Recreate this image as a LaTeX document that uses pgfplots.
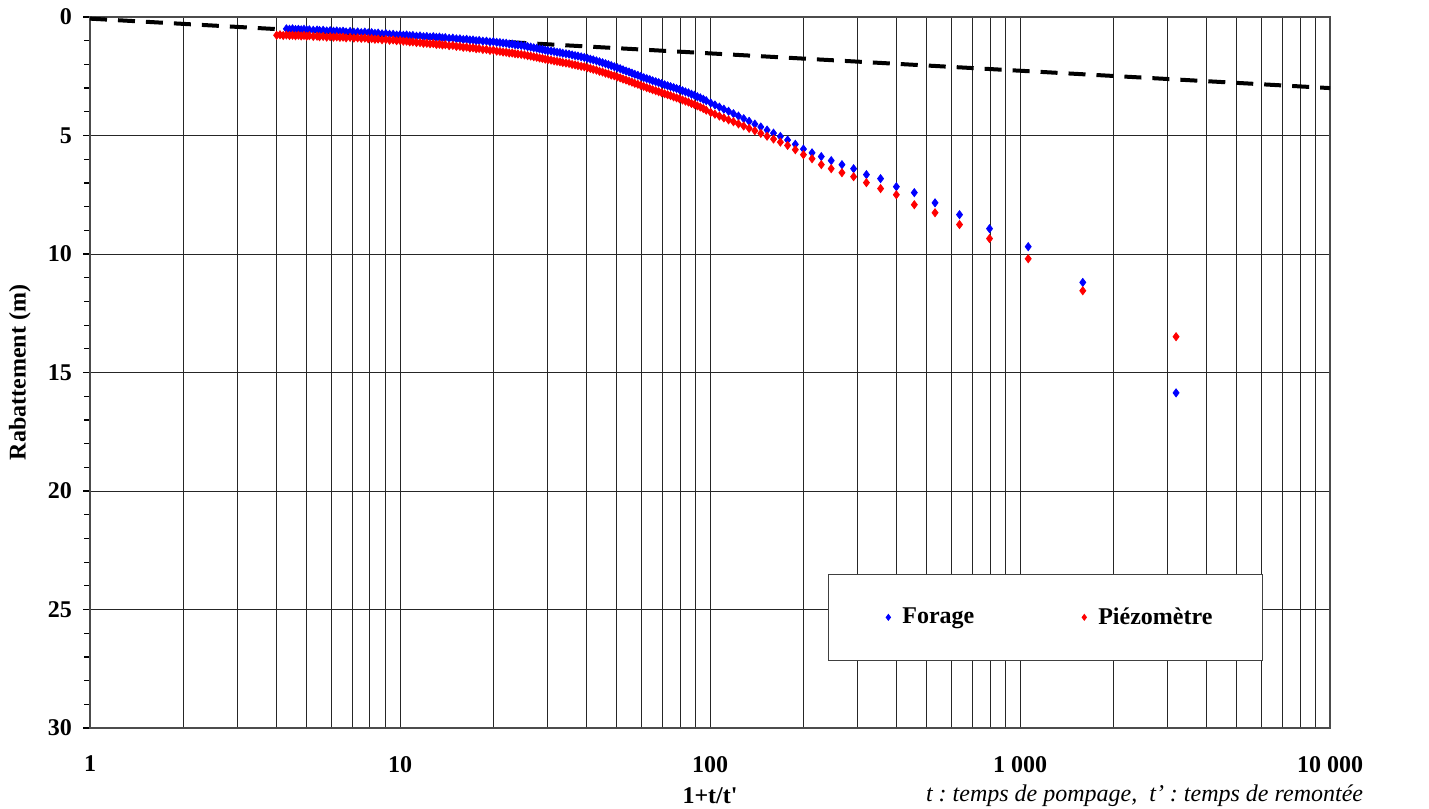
\documentclass[border=0pt]{standalone}
\usepackage{fontspec}
\setmainfont{Liberation Serif}
\usepackage{pgfplots}
\pgfplotsset{compat=1.18}
\newcommand{\chartfont}{\fontsize{12}{14}\selectfont}
\frenchspacing
\begin{document}
\begin{tikzpicture}
\begin{axis}[
  scale only axis,
  width=620pt, height=355.5pt,
  clip=false,
  xmode=log,
  xmin=1, xmax=10000,
  ymin=0, ymax=30,
  y dir=reverse,
  xtick={1,10,100,1000,10000},
  xticklabels={1,10,100,1 000,10 000},
  minor xtick={2,3,4,5,6,7,8,9,20,30,40,50,60,70,80,90,200,300,400,500,600,700,800,900,2000,3000,4000,5000,6000,7000,8000,9000},
  ytick={0,5,10,15,20,25,30},
  yticklabels={0,5,10,15,20,25,30},
  minor ytick={1,2,3,4,6,7,8,9,11,12,13,14,16,17,18,19,21,22,23,24,26,27,28,29},
  ytick pos=left,
  tick align=outside,
  xtick style={draw=none},
  ytick style={black, line width=0.6pt},
  major tick length=3.5pt,
  minor tick length=3pt,
  xmajorgrids, xminorgrids, ymajorgrids,
  major grid style={black!85, line width=0.5pt},
  minor grid style={black!85, line width=0.5pt},
  axis line style={black!70, line width=0.8pt},
  ticklabel style={font=\chartfont\bfseries},
  x tick label style={yshift=-7pt},
  y tick label style={xshift=-2pt},
  xlabel={1+t/t\textquotesingle},
  xlabel style={at={(axis description cs:0.5,-0.0956)}, anchor=center, font=\chartfont\bfseries},
  ylabel={Rabattement (m)},
  ylabel style={at={(axis description cs:-0.0565,0.5)}, anchor=center, font=\chartfont\bfseries},
  legend columns=2,
  legend image code/.code={\path[draw=none, fill=none] (0pt,-2pt) rectangle (12pt,2pt); \draw[#1, mark size=1.4pt] plot coordinates {(7pt,0pt)};},
  legend style={
    at={(axis description cs:0.595,0.2166)}, anchor=north west,
    draw=black!75, line width=0.5pt,
    font=\chartfont\bfseries,
    inner xsep=23pt, inner ysep=14.5pt,
    /tikz/every even column/.append style={column sep=46pt},
  },
]
\addplot[only marks, mark=diamond*, mark size=2pt, color=blue] table {
x y
4.3 0.50
4.4 0.52
4.5 0.50
4.6 0.53
4.7 0.52
4.8 0.54
4.9 0.52
5.0 0.55
5.1 0.54
5.25 0.56
5.4 0.55
5.5 0.57
5.65 0.56
5.8 0.59
5.95 0.58
6.1 0.60
6.25 0.59
6.4 0.61
6.55 0.60
6.7 0.63
6.9 0.61
7.1 0.64
7.3 0.63
7.5 0.66
7.7 0.64
7.9 0.67
8.1 0.66
8.3 0.69
8.5 0.68
8.75 0.71
9.0 0.70
9.25 0.73
9.5 0.73
9.75 0.76
10 0.75
10.25 0.77
10.5 0.76
10.75 0.79
11 0.78
11.3 0.81
11.6 0.80
11.9 0.83
12.2 0.82
12.5 0.85
12.8 0.83
13.1 0.86
13.4 0.85
13.7 0.88
14 0.87
14.4 0.90
14.8 0.89
15.2 0.92
15.6 0.92
16 0.95
16.4 0.94
16.8 0.97
17.2 0.97
17.6 1.00
18 0.99
18.5 1.02
19 1.02
19.5 1.05
20 1.04
20.5 1.07
21 1.08
21.5 1.10
22 1.11
22.5 1.14
23 1.14
23.5 1.17
24 1.18
24.6 1.20
25.2 1.22
25.8 1.25
26.4 1.27
27 1.30
27.6 1.32
28.2 1.35
28.8 1.37
29.4 1.40
30 1.42
30.7 1.44
31.4 1.46
32.1 1.49
32.8 1.50
33.5 1.53
34.3 1.55
35.1 1.57
35.9 1.60
36.7 1.63
37.5 1.65
38.4 1.68
39.3 1.71
40.2 1.74
41.1 1.78
42 1.81
43 1.85
44 1.89
45 1.93
46 1.97
47 2.01
48 2.05
49.1 2.10
50.2 2.14
51.3 2.18
52.4 2.23
53.6 2.28
54.8 2.32
56 2.37
57.2 2.42
58.5 2.46
59.8 2.51
61.1 2.56
62.5 2.60
63.9 2.64
65.3 2.69
66.8 2.73
68.3 2.77
69.8 2.81
71.4 2.86
73 2.90
74.6 2.94
76.3 2.98
78 3.02
79.7 3.06
81.5 3.11
83.3 3.16
85.2 3.20
87.1 3.26
89 3.30
91 3.36
93 3.41
95.1 3.47
97.2 3.53
100.5 3.63
103.7 3.71
107.2 3.80
110.8 3.89
114.75 3.98
119 4.08
123.5 4.18
128.4 4.29
133.7 4.40
139.5 4.52
145.8 4.64
152.7 4.77
160.25 4.90
168.6 5.04
177.9 5.19
188.4 5.37
200.1 5.57
213.3 5.73
228.5 5.89
246 6.06
266.4 6.23
290.5 6.40
319.5 6.65
354.9 6.82
399.1 7.16
456 7.41
531.8 7.84
638 8.34
797.25 8.93
1062.7 9.69
1593.5 11.20
3186 15.86
};
\addlegendentry{Forage}
\addplot[only marks, mark=diamond*, mark size=2pt, color=red] table {
x y
4.0 0.77
4.1 0.75
4.2 0.78
4.3 0.76
4.4 0.78
4.5 0.77
4.6 0.79
4.7 0.77
4.8 0.80
4.9 0.78
5.0 0.81
5.1 0.79
5.25 0.82
5.4 0.81
5.5 0.83
5.65 0.82
5.8 0.85
5.95 0.83
6.1 0.85
6.25 0.84
6.4 0.86
6.55 0.85
6.7 0.88
6.9 0.86
7.1 0.89
7.3 0.88
7.5 0.90
7.7 0.89
7.9 0.92
8.1 0.91
8.3 0.94
8.5 0.93
8.75 0.96
9.0 0.95
9.25 0.98
9.5 0.97
9.75 1.00
10 0.99
10.25 1.02
10.5 1.02
10.75 1.05
11 1.05
11.3 1.08
11.6 1.08
11.9 1.11
12.2 1.11
12.5 1.13
12.8 1.12
13.1 1.16
13.4 1.15
13.7 1.18
14 1.17
14.4 1.21
14.8 1.20
15.2 1.24
15.6 1.24
16 1.28
16.4 1.27
16.8 1.31
17.2 1.30
17.6 1.34
18 1.33
18.5 1.37
19 1.37
19.5 1.41
20 1.40
20.5 1.44
21 1.45
21.5 1.48
22 1.49
22.5 1.52
23 1.52
23.5 1.55
24 1.56
24.6 1.58
25.2 1.60
25.8 1.63
26.4 1.65
27 1.68
27.6 1.70
28.2 1.73
28.8 1.75
29.4 1.78
30 1.80
30.7 1.82
31.4 1.85
32.1 1.87
32.8 1.89
33.5 1.92
34.3 1.94
35.1 1.96
35.9 2.00
36.7 2.02
37.5 2.05
38.4 2.08
39.3 2.10
40.2 2.14
41.1 2.17
42 2.21
43 2.24
44 2.29
45 2.32
46 2.37
47 2.40
48 2.45
49.1 2.48
50.2 2.53
51.3 2.57
52.4 2.62
53.6 2.66
54.8 2.71
56 2.75
57.2 2.80
58.5 2.84
59.8 2.89
61.1 2.93
62.5 2.98
63.9 3.02
65.3 3.07
66.8 3.11
68.3 3.15
69.8 3.19
71.4 3.24
73 3.28
74.6 3.32
76.3 3.37
78 3.41
79.7 3.45
81.5 3.50
83.3 3.55
85.2 3.59
87.1 3.65
89 3.69
91 3.75
93 3.80
95.1 3.86
97.2 3.93
100.5 4.03
103.7 4.10
107.2 4.18
110.8 4.26
114.75 4.34
119 4.42
123.5 4.51
128.4 4.60
133.7 4.70
139.5 4.80
145.8 4.91
152.7 5.03
160.25 5.15
168.6 5.28
177.9 5.42
188.4 5.60
200.1 5.81
213.3 5.98
228.5 6.23
246 6.40
266.4 6.57
290.5 6.74
319.5 6.99
354.9 7.24
399.1 7.50
456 7.92
531.8 8.26
638 8.76
797.25 9.35
1062.7 10.20
1593.5 11.55
3186 13.49
};
\addlegendentry{Piézomètre}
\addplot[black, line width=2pt, dash pattern=on 8.5pt off 5.5pt, forget plot] coordinates {(1,0.07) (10000,3.0)};
\node[anchor=east, font=\chartfont\itshape] at (axis description cs:1.0323,-0.0956) {t : temps de pompage,\ \ t’ : temps de remontée};
\coordinate (bbsw) at (axis description cs:-0.0726,-0.1139);
\coordinate (bbne) at (axis description cs:1.0798,1.0239);
\end{axis}
\pgfresetboundingbox
\path[use as bounding box] (bbsw) rectangle (bbne);
\end{tikzpicture}
\end{document}
